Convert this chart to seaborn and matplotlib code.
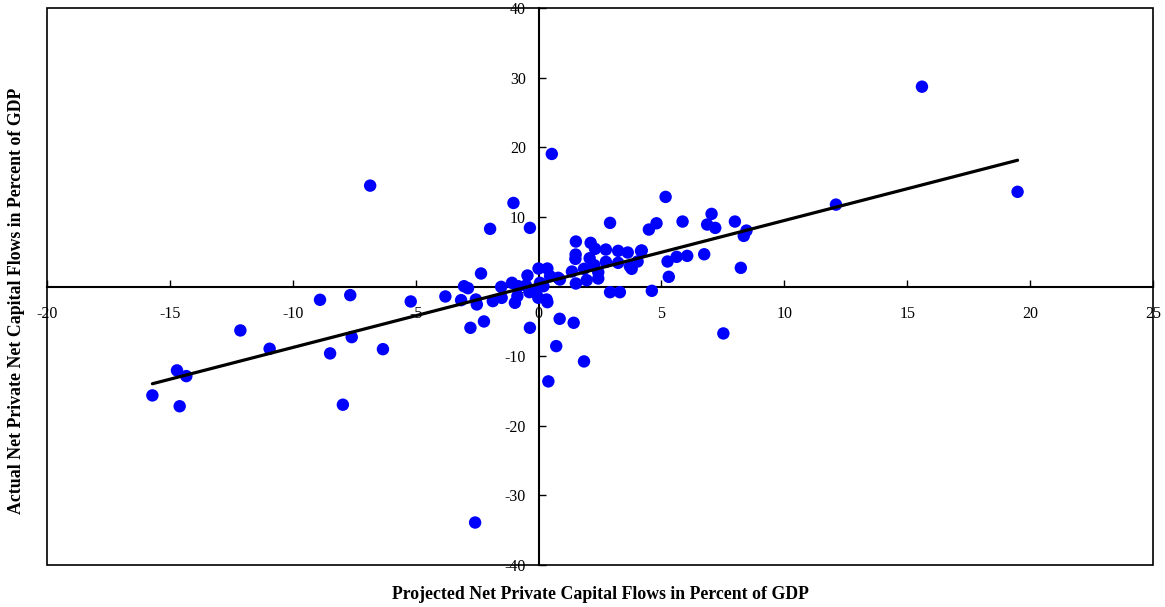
import numpy as np
import pandas as pd
import matplotlib
matplotlib.use("Agg")
import matplotlib.pyplot as plt
import seaborn as sns
from matplotlib.patches import Rectangle

proyectado = [
    -15.71, -14.60, -14.71, -14.33, -12.13, -10.94, -8.89, -7.66, -7.60, -8.48, -7.96, -6.33, -5.20, -3.79,
    -6.85, 15.60, 19.49, 12.10, 0.54, -1.02, -1.97, -0.35, -2.58, 0.40, 1.85, 0.72, -2.77, -2.22, -0.35, 0.86, 1.43, 7.52,
    5.17, 4.49, 4.80, 5.86, 6.86, 7.04, 7.19, 7.99, 8.46, 8.35, 4.20, 5.25, 5.62, 6.05, 6.74, 8.23, 5.30, 4.61, 2.91,
    1.52, 2.12, 2.30, 1.51, 1.50, 2.08, 2.74, 3.24, 3.63, 4.17, 1.36, 1.85, 2.27, 2.74, 3.24, 3.72, 4.03, 3.79, 2.43, 2.43,
    1.96, 1.52, 2.91, 3.31, 0.87,
    -2.34, -3.03, -2.87, -3.15, -2.55, -2.51, -1.86, -1.50, -1.52, -1.08, -0.86, -0.96, -0.45, -0.37, 0.00, 0.36, 0.47,
    0.80, 0.06, -0.07, 0.20, -0.01, 0.33, 0.36, -0.82, -0.51,
]
observado = [
    -15.64, -17.20, -12.05, -12.87, -6.31, -8.94, -1.91, -1.24, -7.27, -9.61, -16.98, -9.00, -2.15, -1.43,
    14.49, 28.70, 13.60, 11.76, 19.04, 12.00, 8.28, 8.42, -33.90, -13.63, -10.76, -8.56, -5.93, -5.02, -5.93, -4.64, -5.21, -6.74,
    12.87, 8.18, 9.08, 9.33, 8.90, 10.43, 8.42, 9.33, 8.03, 7.27, 5.17, 3.59, 4.26, 4.40, 4.63, 2.68, 1.39, -0.62, 9.14,
    6.46, 6.27, 5.41, 4.59, 3.97, 4.06, 5.31, 5.12, 4.88, 5.12, 2.15, 2.54, 3.06, 3.54, 3.40, 2.87, 3.59, 2.54, 2.05, 1.15,
    0.90, 0.43, -0.82, -0.82, 1.00,
    1.87, 0.04, -0.24, -1.96, -1.87, -2.58, -2.10, -1.63, -0.05, 0.53, -1.39, -2.34, 1.58, -0.81, 2.58, 2.58, 1.48,
    1.25, 0.53, -0.43, 0.04, -1.62, -1.87, -2.25, 0.04, 0.14,
]
xticks = [-20, -15, -10, -5, 0, 5, 10, 15, 20, 25]
yticks = [-40, -30, -20, -10, 0, 10, 20, 30, 40]

df = pd.DataFrame({"Proyectado": proyectado, "Observado": observado})

sns.set_style("white")
plt.rcParams["font.family"] = ["Liberation Serif", "DejaVu Serif"]

fig = plt.figure(figsize=(11.65, 6.07), dpi=100)
ax = fig.add_axes([0.0403, 0.0692, 0.9494, 0.9176])

# puntos + recta de regresion (MCO)
sns.regplot(data=df, x="Proyectado", y="Observado", ax=ax, ci=None,
            scatter_kws={"s": 80, "color": "#0000FF", "edgecolors": "none", "alpha": 1, "zorder": 3},
            line_kws={"color": "black", "lw": 2.3, "zorder": 4})

ax.set_xlim(-20, 25)
ax.set_ylim(-40, 40)
ax.set_xticks(xticks)
ax.set_yticks(yticks)
ax.set_xticklabels([str(t) for t in xticks])
ax.set_yticklabels([str(t) for t in yticks])

# ejes cruzando en el origen
for lado in ["left", "bottom"]:
    ax.spines[lado].set_position(("data", 0))
    ax.spines[lado].set_color("black")
    ax.spines[lado].set_linewidth(1.5)
    ax.spines[lado].set_zorder(2)
ax.spines["top"].set_visible(False)
ax.spines["right"].set_visible(False)
# marco exterior
ax.add_patch(Rectangle((0, 0), 1, 1, transform=ax.transAxes, fill=False,
                       lw=1.2, edgecolor="black", clip_on=False, zorder=5))

ax.tick_params(axis="x", direction="in", length=5, width=1, pad=14, labelsize=11.5, colors="black")
ax.tick_params(axis="y", direction="in", length=5, width=1, pad=9, labelsize=11.5, colors="black")
ax.xaxis.set_ticks_position("bottom")
ax.yaxis.set_ticks_position("left")

ax.set_xlabel("Projected Net Private Capital Flows in Percent of GDP", fontsize=12.8,
              fontweight="bold", color="black")
ax.set_ylabel("Actual Net Private Net Capital Flows in Percent of GDP", fontsize=12.8,
              fontweight="bold", color="black")
ax.xaxis.set_label_coords(0.5, -0.038)
ax.yaxis.set_label_coords(-0.020, 0.474)
ax.grid(False)

plt.savefig("out.png", dpi=100)
print("Grafico 'out.png' guardado.")
